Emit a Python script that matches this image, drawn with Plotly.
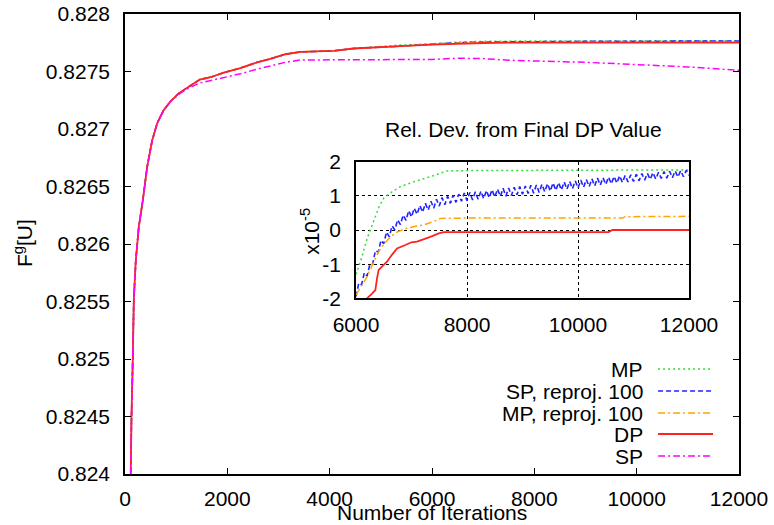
import plotly.graph_objects as go

# ---------------- data ----------------
series_names = ["MP", "SP, reproj. 100", "MP, reproj. 100", "DP", "SP"]

# main plot (iterations vs F^g[U])
x_main = [100, 110, 127, 152, 172, 211, 270, 348, 433, 531, 629, 750, 889, 1050,
          1215, 1461, 1670, 1930, 2255, 2582, 2841, 3134, 3427, 4077, 4468, 5053,
          5380, 6000, 6500, 7000, 7500, 8000, 9000, 10000, 10600, 11000, 12000]
y_dp = [0.8236, 0.8240, 0.8245, 0.8250, 0.82551, 0.82586, 0.82615, 0.82638, 0.82667,
        0.82690, 0.82705, 0.82716, 0.82724, 0.82731, 0.82736, 0.82743, 0.82745,
        0.82749, 0.82753, 0.82758, 0.82761, 0.82765, 0.82767, 0.82768, 0.82770,
        0.82771, 0.82772, 0.827734, 0.827743, 0.827748, 0.827751, 0.827751,
        0.827751, 0.827751, 0.827752, 0.827752, 0.827752]
y_mp = [0.8236, 0.8240, 0.8245, 0.8250, 0.82551, 0.82586, 0.82615, 0.82638, 0.82667,
        0.82690, 0.82705, 0.82716, 0.82724, 0.82731, 0.82736, 0.82743, 0.82745,
        0.82749, 0.82753, 0.82758, 0.82761, 0.82765, 0.82767, 0.82768, 0.82770,
        0.82772, 0.82773, 0.827741, 0.827756, 0.827762, 0.827765, 0.827766,
        0.827766, 0.827766, 0.827766, 0.827766, 0.827767]
y_sprp = [0.8236, 0.8240, 0.8245, 0.8250, 0.82551, 0.82586, 0.82615, 0.82638, 0.82667,
          0.82690, 0.82705, 0.82716, 0.82724, 0.82731, 0.82736, 0.82743, 0.82745,
          0.82749, 0.82753, 0.82758, 0.82761, 0.82765, 0.82767, 0.82768, 0.82770,
          0.82771, 0.82772, 0.827737, 0.827750, 0.827756, 0.827759, 0.827760,
          0.827762, 0.827763, 0.827764, 0.827765, 0.827765]
y_mprp = [0.8236, 0.8240, 0.8245, 0.8250, 0.82551, 0.82586, 0.82615, 0.82638, 0.82667,
          0.82690, 0.82705, 0.82716, 0.82724, 0.82731, 0.82736, 0.82743, 0.82745,
          0.82749, 0.82753, 0.82758, 0.82761, 0.82765, 0.82767, 0.82768, 0.82770,
          0.82771, 0.82772, 0.827736, 0.827748, 0.827752, 0.827754, 0.827755,
          0.827755, 0.827755, 0.827755, 0.827755, 0.827755]
y_sp = [0.8236, 0.8240, 0.8245, 0.8250, 0.82551, 0.82586, 0.82615, 0.82638, 0.82667,
        0.82690, 0.82705, 0.82716, 0.82724, 0.82730, 0.82735, 0.82740, 0.82742,
        0.82745, 0.82748, 0.82752, 0.82755, 0.82758, 0.82760, 0.82760, 0.82760,
        0.82760, 0.82760, 0.827605, 0.827615, 0.827612, 0.827598, 0.827592,
        0.827580, 0.827560, 0.827550, 0.827540, 0.827510]

# inset: relative deviation from final DP value (x 1e-5)
x_in_mp = [6000, 6108, 6200, 6318, 6420, 6498, 6649, 6799, 7039, 7339, 7640, 8000, 10000, 12000]
d_mp = [-1.3, -0.78, -0.25, 0.29, 0.7, 0.93, 1.12, 1.27, 1.41, 1.56, 1.73, 1.74, 1.75, 1.76]

x_in_sprp = list(range(6000, 12001, 50))
d_sprp = [-1.95, -1.55, -1.6, -1.25, -1.35, -1.0, -1.0, -0.6, -0.65, -0.3,
          -0.4, -0.06, -0.2, 0.12, 0.0, 0.3, 0.16, 0.44, 0.28, 0.57,
          0.38, 0.64, 0.46, 0.72, 0.52, 0.78, 0.58, 0.84, 0.64, 0.9,
          0.7, 0.95, 0.74, 0.99, 0.78, 1.02, 0.81, 1.05, 0.84, 1.08,
          0.86, 1.1, 0.88, 1.12, 0.9, 1.14, 0.92, 1.16, 0.94, 1.18,
          0.96, 1.2, 0.98, 1.22, 0.99, 1.23, 1.01, 1.25, 1.03, 1.27,
          1.05, 1.29, 1.07, 1.31, 1.08, 1.32, 1.1, 1.34, 1.12, 1.36,
          1.14, 1.38, 1.16, 1.39, 1.17, 1.41, 1.19, 1.42, 1.21, 1.44,
          1.23, 1.46, 1.25, 1.48, 1.27, 1.5, 1.29, 1.52, 1.31, 1.53,
          1.33, 1.55, 1.35, 1.57, 1.37, 1.59, 1.39, 1.6, 1.41, 1.62,
          1.42, 1.63, 1.44, 1.65, 1.46, 1.66, 1.48, 1.68, 1.49, 1.69,
          1.51, 1.71, 1.52, 1.72, 1.53, 1.73, 1.55, 1.74, 1.56, 1.75,
          1.6]

x_in_mprp = [6000, 6100, 6198, 6300, 6408, 6500, 6619, 6750, 6919, 7050, 7219, 7400, 7520, 8000, 10800, 10850, 12000]
d_mprp = [-1.9, -1.65, -1.37, -1.0, -0.63, -0.42, -0.2, -0.05, 0.05, 0.1, 0.15, 0.25, 0.34, 0.35, 0.35, 0.39, 0.4]

x_in_dp = [6150, 6198, 6280, 6348, 6380, 6408, 6480, 6558, 6650, 6739, 6889, 7000, 7099, 7250, 7339, 7490, 7580, 8000, 10550, 10620, 12000]
d_dp = [-2.1, -2.0, -1.88, -1.76, -1.4, -1.17, -1.05, -0.93, -0.72, -0.54, -0.44, -0.36, -0.34, -0.26, -0.2, -0.1, -0.06, -0.06, -0.06, 0.0, 0.0]

main_x_ticks = [0, 2000, 4000, 6000, 8000, 10000, 12000]
main_x_labels = ["0", "2000", "4000", "6000", "8000", "10000", "12000"]
main_y_ticks = [0.824, 0.8245, 0.825, 0.8255, 0.826, 0.8265, 0.827, 0.8275, 0.828]
main_y_labels = ["0.824", "0.8245", "0.825", "0.8255", "0.826", "0.8265", "0.827", "0.8275", "0.828"]
inset_x_ticks = [6000, 8000, 10000, 12000]
inset_x_labels = ["6000", "8000", "10000", "12000"]
inset_y_ticks = [-2, -1, 0, 1, 2]
inset_y_labels = ["-2", "-1", "0", "1", "2"]

# ---------------- styles ----------------
FONT = "Liberation Sans, Arial, Helvetica, sans-serif"
FS = 21
colors = {"MP": "#33dd33", "SP, reproj. 100": "#2222ff", "MP, reproj. 100": "#ffa500",
          "DP": "#ff2222", "SP": "#ff00ff"}
dashes = {"MP": "2px,3px", "SP, reproj. 100": "5px,3px", "MP, reproj. 100": "7px,3px,2px,3px",
          "DP": "solid", "SP": "7px,3px,2px,3px"}
widths = {"MP": 1.5, "SP, reproj. 100": 1.6, "MP, reproj. 100": 1.5, "DP": 1.8, "SP": 1.5}

L, R, T, B = 124.5, 739.0, 14.0, 474.0
W, H = 774, 525


def pxx(x):
    return (x - L) / (R - L)


def pyy(y):
    return (B - y) / (B - T)


fig = go.Figure()

main_y = {"MP": y_mp, "SP, reproj. 100": y_sprp, "MP, reproj. 100": y_mprp, "DP": y_dp, "SP": y_sp}
for name in series_names:
    fig.add_trace(go.Scatter(x=x_main, y=main_y[name], mode="lines", name=name,
                             line=dict(color=colors[name], dash=dashes[name], width=widths[name]),
                             xaxis="x", yaxis="y", showlegend=False))

inset = {"MP": (x_in_mp, d_mp), "SP, reproj. 100": (x_in_sprp, d_sprp),
         "MP, reproj. 100": (x_in_mprp, d_mprp), "DP": (x_in_dp, d_dp)}
for name in ["MP", "SP, reproj. 100", "MP, reproj. 100", "DP"]:
    xs, ys = inset[name]
    fig.add_trace(go.Scatter(x=xs, y=ys, mode="lines", name=name,
                             line=dict(color=colors[name], dash=dashes[name], width=widths[name]),
                             xaxis="x2", yaxis="y2", showlegend=False))

tf = dict(family=FONT, size=FS, color="black")
axis_common = dict(showline=True, linecolor="black", linewidth=1.5, mirror="ticks",
                   ticks="inside", ticklen=6, tickcolor="black", tickwidth=1,
                   tickfont=tf, zeroline=False, automargin=False, showgrid=False)
inset_common = dict(showgrid=True, gridcolor="black", griddash="dot", gridwidth=1, ticks="",
                    showline=True, linecolor="black", linewidth=1.5, mirror=True,
                    zeroline=False, automargin=False, tickfont=tf)

fig.update_layout(
    template="none",
    width=W, height=H,
    margin=dict(l=L, r=W - R, t=T, b=H - B, pad=0),
    paper_bgcolor="white", plot_bgcolor="white",
    font=dict(family=FONT, size=FS, color="black"),
    showlegend=False,
    xaxis=dict(range=[0, 12000], tickvals=main_x_ticks, ticktext=main_x_labels,
               ticklabelstandoff=5, domain=[0, 1], **axis_common),
    yaxis=dict(range=[0.824, 0.828], tickvals=main_y_ticks, ticktext=main_y_labels,
               ticklabelstandoff=9, domain=[0, 1], **axis_common),
    xaxis2=dict(range=[6000, 12000], tickvals=inset_x_ticks, ticktext=inset_x_labels,
                anchor="y2", domain=[pxx(355.7), pxx(689.0)], ticklabelstandoff=7,
                **inset_common),
    yaxis2=dict(range=[-2, 2], tickvals=inset_y_ticks, ticktext=inset_y_labels,
                anchor="x2", domain=[pyy(298.3), pyy(161.7)], ticklabelstandoff=9,
                **inset_common),
)

annotations = [
    dict(text="Number of Iterations", x=pxx(431.5), y=pyy(525), yanchor="bottom", borderpad=0),
    dict(text="F<sup>g</sup>[U]", x=pxx(23), y=pyy(243.5), textangle=-90),
    dict(text="Rel. Dev. from Final DP Value", x=pxx(523), y=pyy(129)),
    dict(text="x10<sup>-5</sup>", x=pxx(309), y=pyy(231.5), textangle=-90),
]
for a in annotations:
    a.setdefault("yanchor", "middle")
    a.update(xref="paper", yref="paper", showarrow=False, xanchor="center")

legend_y = [369, 391, 413, 434, 456]
shapes = []
for name, ly in zip(series_names, legend_y):
    annotations.append(dict(text=name, x=pxx(645), y=pyy(ly), xref="paper", yref="paper",
                            showarrow=False, xanchor="right", yanchor="middle"))
    shapes.append(dict(type="line", xref="paper", yref="paper",
                       x0=pxx(658), x1=pxx(713), y0=pyy(ly), y1=pyy(ly),
                       line=dict(color=colors[name], dash=dashes[name], width=widths[name])))

fig.update_layout(annotations=annotations, shapes=shapes)
fig.update_annotations(font=tf)

fig.write_html("out.html")
